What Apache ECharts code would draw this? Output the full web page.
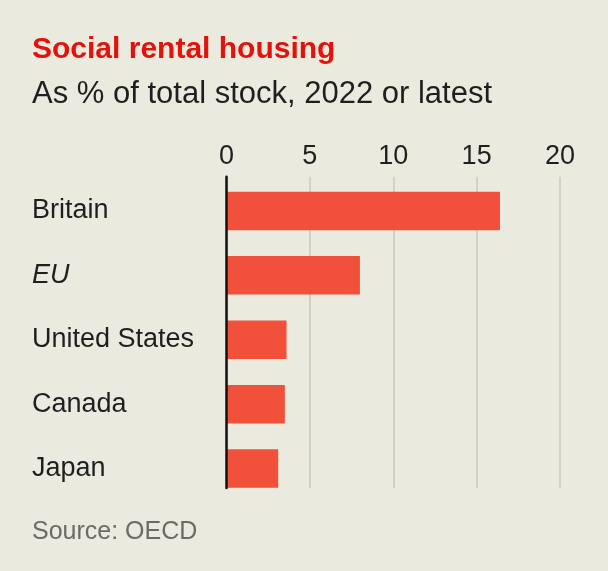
<!DOCTYPE html>
<html>
<head>
<meta charset="utf-8">
<script src="https://cdn.jsdelivr.net/npm/echarts@6/dist/echarts.min.js"></script>
<style>
html,body{margin:0;padding:0;background:#ebeadf;}
#chart{width:608px;height:571px;}
</style>
</head>
<body>
<div id="chart"></div>
<script>
const categories = ['Britain', 'EU', 'United States', 'Canada', 'Japan'];
const values = [16.4, 8.0, 3.6, 3.5, 3.1];
const tickMin = 0, tickMax = 20, tickStep = 5;

const FONT = '"Liberation Sans", Roboto, sans-serif';
const chart = echarts.init(document.getElementById('chart'));
chart.setOption({
  backgroundColor: '#ebeadf',
  animation: false,
  title: [
    { text: 'Social rental housing', left: 32, top: 35, padding: 0,
      textStyle: { color: '#e3120b', fontFamily: FONT, fontWeight: 'bold', fontSize: 30, lineHeight: 30 } },
    { text: 'As % of total stock, 2022 or latest', left: 32, top: 79, padding: 0,
      textStyle: { color: '#1f1f1f', fontFamily: FONT, fontWeight: 'normal', fontSize: 31, lineHeight: 31 } },
    { text: 'Source: OECD', left: 32, top: 520, padding: 0,
      textStyle: { color: '#6b6b66', fontFamily: FONT, fontWeight: 'normal', fontSize: 25, lineHeight: 25 } }
  ],
  grid: [
    { left: 226.5, right: 48, top: 178.8, height: 321.9 },
    { left: 226.5, right: 48, top: 176.7, height: 311.3 }
  ],
  xAxis: [
    { gridIndex: 0, type: 'value', min: tickMin, max: tickMax, interval: tickStep,
      show: false },
    { gridIndex: 1, type: 'value', min: tickMin, max: tickMax, interval: tickStep,
      position: 'top',
      axisLine: { show: false }, axisTick: { show: false },
      axisLabel: { color: '#1f1f1f', fontFamily: FONT, fontSize: 27, margin: 7 },
      splitLine: { show: true, lineStyle: { color: '#c9c8c0', width: 1.5 } } }
  ],
  yAxis: [
    { gridIndex: 0, type: 'category', data: categories, inverse: true,
      axisLine: { show: false }, axisTick: { show: false },
      axisLabel: { align: 'left', margin: 194.5, color: '#1f1f1f', fontFamily: FONT, fontSize: 27,
        formatter: v => v === 'EU' ? '{i|EU}' : v,
        rich: { i: { fontStyle: 'italic', fontFamily: FONT, fontSize: 27, color: '#1f1f1f' } } } },
    { gridIndex: 1, type: 'category', data: categories, inverse: true, z: 5,
      axisLine: { show: true, lineStyle: { color: '#111111', width: 2.5 } },
      axisTick: { show: false }, axisLabel: { show: false } }
  ],
  series: [
    { type: 'bar', xAxisIndex: 0, yAxisIndex: 0, data: values, barWidth: 38.5,
      itemStyle: { color: '#f1503a' }, z: 3 }
  ]
});
</script>
</body>
</html>
